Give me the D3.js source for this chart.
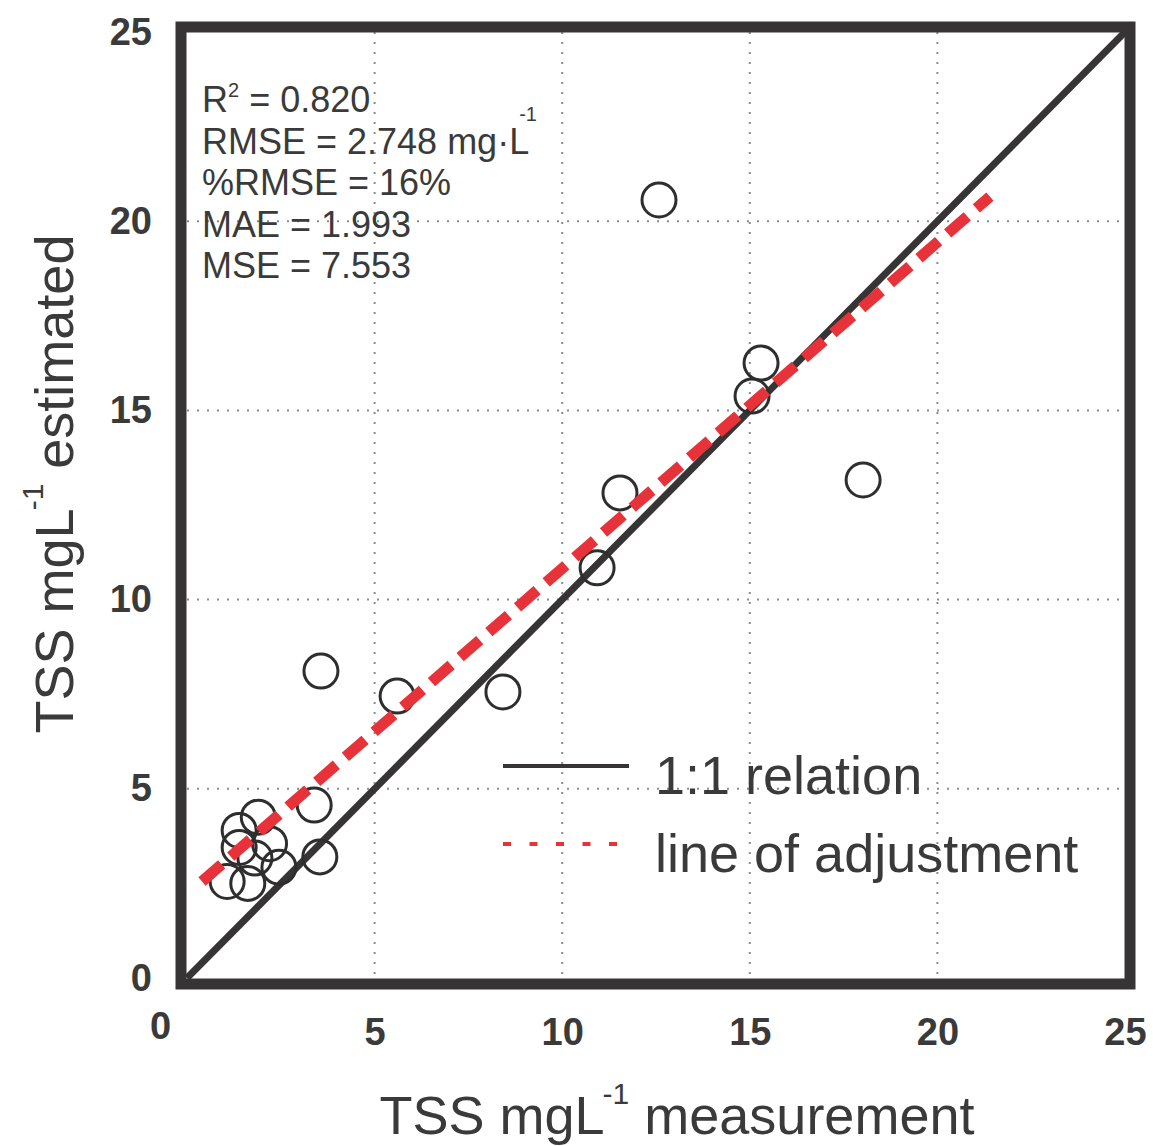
<!DOCTYPE html>
<html>
<head>
<meta charset="utf-8">
<script src="https://cdn.jsdelivr.net/npm/d3@7"></script>
<style>
  body { margin: 0; background: #fff; }
  text { font-family: 'Liberation Sans', Arial, sans-serif; }
</style>
</head>
<body>
<div id="chart"></div>
<script>
// data (mg/L)
let measured = [12.58, 15.30, 15.06, 18.02, 11.54, 10.93, 3.57, 5.60, 8.42, 3.39, 3.54, 1.90, 1.39, 1.39, 2.20, 1.81, 2.45, 1.07, 1.62]
let estimated = [20.56, 16.25, 15.38, 13.16, 12.82, 10.84, 8.11, 7.45, 7.56, 4.57, 3.20, 4.25, 3.90, 3.45, 3.55, 3.17, 2.93, 2.55, 2.50]
let fitX = [0.4, 21.4] // line of adjustment end points
let fitY = [2.55, 20.65]
let xTicks = [0, 5, 10, 15, 20, 25]
let yTicks = [0, 5, 10, 15, 20, 25]
let gridTicks = [5, 10, 15, 20]
let statLines = [
  [['R'], ['2', 'sup'], [' = 0.820']],
  [['RMSE = 2.748 mg·L'], ['-1', 'high']],
  [['%RMSE = 16%']],
  [['MAE = 1.993']],
  [['MSE = 7.553']]
]
let legendNames = ['1:1 relation', 'line of adjustment']

let width = 1153,
  height = 1146,
  plot = { left: 187, right: 1125, top: 32, bottom: 978 },
  frameColor = '#373435',
  textColor = '#3a3a3a',
  red = '#e8323a',
  pointRadius = 17

let x = d3.scaleLinear().domain([0, 25]).range([plot.left, plot.right])
let y = d3.scaleLinear().domain([0, 25]).range([plot.bottom, plot.top])

let svg = d3.select('#chart').append('svg')
  .attr('width', width)
  .attr('height', height)

svg.append('rect').attr('width', width).attr('height', height).attr('fill', '#fff')

// dotted grid
let grid = svg.append('g')
grid.selectAll('.vgrid')
  .data(gridTicks)
  .enter().append('line')
  .attr('x1', d => x(d)).attr('x2', d => x(d))
  .attr('y1', plot.top).attr('y2', plot.bottom)
grid.selectAll('.hgrid')
  .data(gridTicks)
  .enter().append('line')
  .attr('y1', d => y(d)).attr('y2', d => y(d))
  .attr('x1', plot.left).attr('x2', plot.right)
grid.selectAll('line')
  .attr('stroke', '#8c8c8c')
  .attr('stroke-width', 2)
  .attr('stroke-dasharray', '2,8')

// stats text
let stats = svg.append('g')
  .attr('font-size', 36)
  .attr('fill', textColor)
stats.selectAll('text')
  .data(statLines)
  .enter().append('text')
  .attr('x', 202)
  .attr('y', (d, i) => 112 + i * 41.5)
  .each(function (parts) {
    let t = d3.select(this)
    parts.forEach((p, j) => {
      let span = t.append('tspan').text(p[0])
      if (p[1] === 'sup') span.attr('font-size', 20).attr('dy', -15)
      else if (p[1] === 'high') span.attr('font-size', 20).attr('dy', -33).attr('dx', -10)
      else if (j > 0) span.attr('dy', 15)
    })
  })

// 1:1 line
svg.append('line')
  .attr('x1', x(0)).attr('y1', y(0))
  .attr('x2', x(25)).attr('y2', y(25))
  .attr('stroke', frameColor)
  .attr('stroke-width', 7)

// points
svg.append('g').selectAll('circle')
  .data(measured)
  .enter().append('circle')
  .attr('cx', d => x(d))
  .attr('cy', (d, i) => y(estimated[i]))
  .attr('r', pointRadius)
  .attr('fill', 'none')
  .attr('stroke', '#2e2e2e')
  .attr('stroke-width', 3)

// line of adjustment
svg.append('line')
  .attr('x1', x(fitX[0])).attr('y1', y(fitY[0]))
  .attr('x2', x(fitX[1])).attr('y2', y(fitY[1]))
  .attr('stroke', red)
  .attr('stroke-width', 11)
  .attr('stroke-dasharray', '26,12')

// frame
svg.append('rect')
  .attr('x', plot.left - 6)
  .attr('y', plot.top - 5)
  .attr('width', plot.right - plot.left + 11)
  .attr('height', plot.bottom - plot.top + 11)
  .attr('fill', 'none')
  .attr('stroke', frameColor)
  .attr('stroke-width', 11)

// axes (labels only)
let xAxis = svg.append('g')
  .attr('transform', 'translate(0,' + plot.bottom + ')')
  .call(d3.axisBottom(x).tickValues(xTicks).tickSize(0).tickPadding(0))
xAxis.select('.domain').remove()
xAxis.selectAll('text')
  .attr('dy', null)
  .attr('y', 67)
  .filter(d => d === 0)
  .attr('x', -27)
  .attr('y', 61)

let yAxis = svg.append('g')
  .attr('transform', 'translate(152,0)')
  .call(d3.axisLeft(y).tickValues(yTicks).tickSize(0).tickPadding(0))
yAxis.select('.domain').remove()
yAxis.selectAll('text').attr('x', 0)

svg.selectAll('.tick text')
  .attr('font-family', "'Liberation Sans', Arial, sans-serif")
  .attr('font-size', 38)
  .attr('font-weight', 'bold')
  .attr('fill', textColor)

// axis titles
let xTitle = svg.append('text')
  .attr('x', 677).attr('y', 1134)
  .attr('text-anchor', 'middle')
  .attr('font-size', 54)
  .attr('fill', textColor)
xTitle.append('tspan').text('TSS mgL')
xTitle.append('tspan').text('-1').attr('font-size', 30).attr('dy', -30).attr('dx', -2)
xTitle.append('tspan').text(' measurement').attr('dy', 30)

let yTitle = svg.append('text')
  .attr('transform', 'translate(73,484) rotate(-90)')
  .attr('text-anchor', 'middle')
  .attr('font-size', 54)
  .attr('fill', textColor)
yTitle.append('tspan').text('TSS mgL')
yTitle.append('tspan').text('-1').attr('font-size', 30).attr('dy', -30).attr('dx', -2)
yTitle.append('tspan').text(' estimated').attr('dy', 30)

// legend
let legend = svg.append('g')
legend.append('line')
  .attr('x1', 503).attr('x2', 629)
  .attr('y1', 766).attr('y2', 766)
  .attr('stroke', frameColor)
  .attr('stroke-width', 4)
legend.append('line')
  .attr('x1', 503).attr('x2', 618)
  .attr('y1', 844).attr('y2', 844)
  .attr('stroke', red)
  .attr('stroke-width', 4)
  .attr('stroke-dasharray', '8,18.5')
legend.selectAll('text')
  .data(legendNames)
  .enter().append('text')
  .attr('x', 655)
  .attr('y', (d, i) => 794 + i * 78)
  .attr('font-size', 54)
  .attr('fill', textColor)
  .text(d => d)
</script>
</body>
</html>
